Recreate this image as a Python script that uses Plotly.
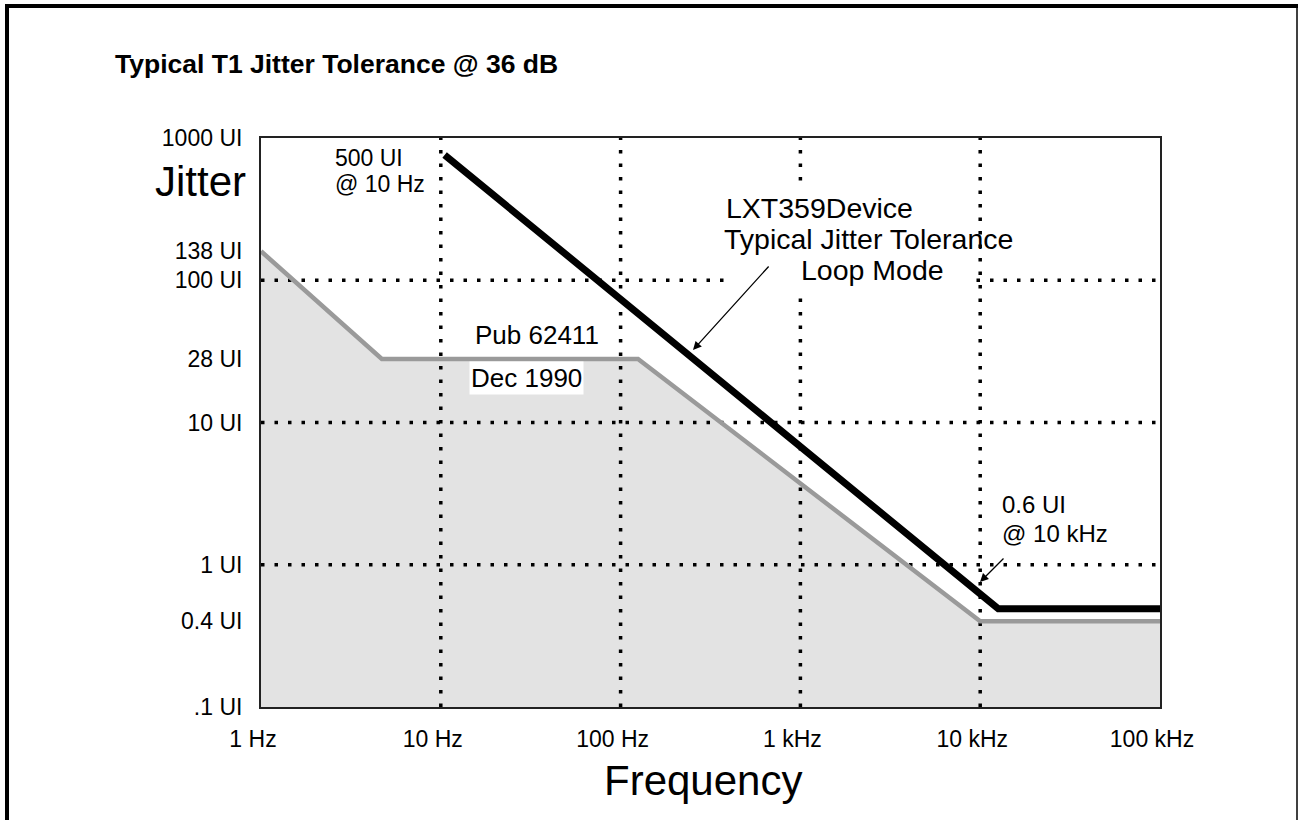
import math
import plotly.graph_objects as go

# ---------------- data ----------------
freq_ticks = [1, 10, 100, 1000, 10000, 100000]
freq_labels = ["1 Hz", "10 Hz", "100 Hz", "1 kHz", "10 kHz", "100 kHz"]

# Pub 62411 (Dec 1990) jitter tolerance mask (levels as drawn on the grid)
pub_freq = [1, 4.7, 125, 10000, 100000]
pub_jitter = [160, 28, 28, 0.4, 0.4]

# LXT359 typical jitter tolerance (loop mode)
lxt_freq = [10.5, 12600, 100000]
lxt_jitter = [760, 0.49, 0.49]

# y tick labels; "138 UI" marks the mask's starting level as drawn
jitter_ticks = [0.1, 0.4, 1, 10, 28, 100, 160, 1000]
jitter_labels = [".1 UI", "0.4 UI", "1 UI", "10 UI", "28 UI", "100 UI", "138 UI", "1000 UI"]

grid_freq = [10, 100, 1000, 10000]
grid_jitter = [1, 10, 100]

x_range = [1, 100000]
y_range = [0.1, 1000]

# ---------------- layout geometry ----------------
W, H = 1299, 820
PL, PR, PT, PB = 261, 1160, 138, 707
FONT = "Liberation Sans, Arial, sans-serif"


def px(p):
    return (p - PL) / (PR - PL)


def py(p):
    return (PB - p) / (PB - PT)


fig = go.Figure()

# shaded mask area
fig.add_trace(go.Scatter(
    x=pub_freq + [x_range[1], x_range[0]],
    y=pub_jitter + [y_range[0], y_range[0]],
    fill="toself", fillcolor="#e3e3e3", mode="lines",
    line=dict(width=0), hoverinfo="skip", showlegend=False))

# dotted grid
gx, gy = [], []
for f in grid_freq:
    gx += [f, f, None]
    gy += [y_range[0], y_range[1], None]
for j in grid_jitter:
    gx += [x_range[0], x_range[1], None]
    gy += [j, j, None]
fig.add_trace(go.Scatter(
    x=gx, y=gy, mode="lines",
    line=dict(color="black", width=3.5, dash="3.5px,10px"),
    hoverinfo="skip", showlegend=False))

# Pub 62411 line
fig.add_trace(go.Scatter(
    x=pub_freq, y=pub_jitter, mode="lines",
    line=dict(color="#9a9a9a", width=4.5), name="Pub 62411", showlegend=False))

# LXT359 line
fig.add_trace(go.Scatter(
    x=lxt_freq, y=lxt_jitter, mode="lines",
    line=dict(color="black", width=7), name="LXT359", showlegend=False))

shapes = [
    # white box behind device label
    dict(type="rect", xref="paper", yref="paper", layer="above",
         x0=px(727), x1=px(973), y0=py(181), y1=py(292),
         fillcolor="white", line=dict(width=0)),
    # outer frame
    dict(type="line", xref="paper", yref="paper", x0=px(7), x1=px(7),
         y0=py(4), y1=py(840), line=dict(color="black", width=4)),
    dict(type="line", xref="paper", yref="paper", x0=px(5), x1=px(1298),
         y0=py(6), y1=py(6), line=dict(color="black", width=4)),
    dict(type="line", xref="paper", yref="paper", x0=px(1297), x1=px(1297),
         y0=py(6), y1=py(840), line=dict(color="black", width=1.5)),
]


def txt(text, x, y, size, xanchor="left", bold=False, bg=None):
    a = dict(text=("<b>%s</b>" % text) if bold else text,
             xref="paper", yref="paper", x=px(x), y=py(y),
             xanchor=xanchor, yanchor="middle", showarrow=False,
             font=dict(family=FONT, size=size, color="black"))
    if bg:
        a["bgcolor"] = bg
        a["borderpad"] = 1
    return a


def arrow(x_tip, y_tip, x_tail, y_tail):
    return dict(text="", xref="paper", yref="paper", x=px(x_tip), y=py(y_tip),
                ax=x_tail - x_tip, ay=y_tail - y_tip, axref="pixel", ayref="pixel",
                showarrow=True, arrowhead=2, arrowsize=1.3, arrowwidth=1.3,
                arrowcolor="black", standoff=0)


annotations = [
    txt("Typical T1 Jitter Tolerance @ 36 dB", 113, 64, 26.5, bold=True),
    txt("Jitter", 248, 181, 42, xanchor="right"),
    txt("Frequency", 703, 780, 42, xanchor="center"),
    txt("500 UI", 333, 158, 23),
    txt("@ 10 Hz", 333, 184, 23),
    txt("LXT359Device", 724, 208, 28.5),
    txt("Typical Jitter Tolerance", 722, 239, 28.5),
    txt("Loop Mode", 799, 270, 28.5),
    txt("Pub 62411", 537, 335, 26, xanchor="center"),
    txt("Dec 1990", 526, 378, 26, xanchor="center", bg="white"),
    txt("0.6 UI", 1000, 504, 24),
    txt("@ 10 kHz", 1000, 533, 24),
    arrow(693, 350, 770, 265),
    arrow(980, 582, 1005, 557),
]

fig.update_layout(
    width=W, height=H,
    margin=dict(l=PL, r=W - PR, t=PT, b=H - PB, pad=0),
    paper_bgcolor="white", plot_bgcolor="white",
    font=dict(family=FONT, color="black"),
    showlegend=False,
    shapes=shapes,
    annotations=annotations,
)

fig.update_xaxes(
    type="log", range=[math.log10(x_range[0]), math.log10(x_range[1])],
    tickmode="array", tickvals=freq_ticks, ticktext=freq_labels,
    tickfont=dict(family=FONT, size=23, color="black"),
    ticks="outside", ticklen=10, tickcolor="rgba(0,0,0,0)", ticklabelshift=-8,
    showgrid=False, zeroline=False,
    showline=True, mirror=True, linecolor="#222222", linewidth=2,
)
fig.update_yaxes(
    type="log", range=[math.log10(y_range[0]), math.log10(y_range[1])],
    tickmode="array", tickvals=jitter_ticks, ticktext=jitter_labels,
    tickfont=dict(family=FONT, size=23, color="black"),
    ticks="outside", ticklen=12, tickcolor="rgba(0,0,0,0)",
    showgrid=False, zeroline=False,
    showline=True, mirror=True, linecolor="#222222", linewidth=2,
)

fig.write_html("out.html", config={"displayModeBar": False},
               post_script="document.body.style.margin='0';")
